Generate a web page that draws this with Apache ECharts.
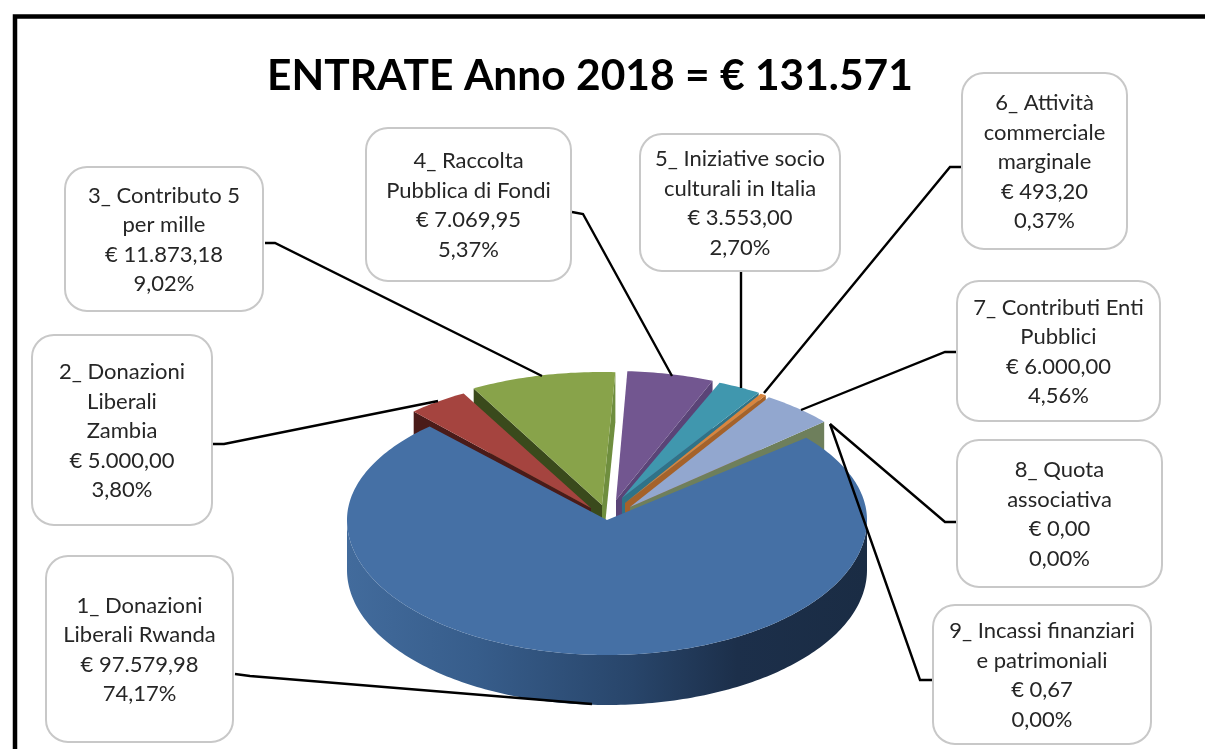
<!DOCTYPE html>
<html>
<head>
<meta charset="utf-8">
<title>ENTRATE Anno 2018</title>
<style>
  html, body { margin: 0; padding: 0; background: #fff; }
  #chart { width: 1205px; height: 749px; }
</style>
<script src="https://cdn.jsdelivr.net/npm/echarts@6/dist/echarts.min.js"></script>
</head>
<body>
<div id="chart"></div>
<script>
// dati
var titleText = 'ENTRATE Anno 2018 = € 131.571';
var categories = [
  ['1_ Donazioni', 'Liberali Rwanda'],
  ['2_ Donazioni', 'Liberali', 'Zambia'],
  ['3_ Contributo 5', 'per mille'],
  ['4_ Raccolta', 'Pubblica di Fondi'],
  ['5_ Iniziative socio', 'culturali in Italia'],
  ['6_ Attività', 'commerciale', 'marginale'],
  ['7_ Contributi Enti', 'Pubblici'],
  ['8_ Quota', 'associativa'],
  ['9_ Incassi finanziari', 'e patrimoniali']
];
var values = [97579.98, 5000, 11873.18, 7069.95, 3553, 493.2, 6000, 0, 0.67];
var valueLabels = ['€ 97.579,98', '€ 5.000,00', '€ 11.873,18', '€ 7.069,95', '€ 3.553,00', '€ 493,20', '€ 6.000,00', '€ 0,00', '€ 0,67'];
var percentLabels = ['74,17%', '3,80%', '9,02%', '5,37%', '2,70%', '0,37%', '4,56%', '0,00%', '0,00%'];

// colori
var topColors = ['#4570a5', '#a5443f', '#88a34a', '#725690', '#4097ae', '#d9853e', '#92a7cf', '#92a7cf', '#92a7cf'];
var startWallColors = [null, '#4a1b19', '#3a4a1c', null, null, null, null, null, null];
var endWallColors = [null, null, '#6f8e3e', '#5a4477', '#2f7388', '#a5622a', '#6e7f5c', null, null];

// layout della torta
var pieCenter = [607, 520];
var pieRx = 260;
var pieRyFront = 135;
var pieRyBack = 128;  // la prospettiva schiaccia la parte dietro
var pieDepth = 50;
var startAngle = 50;
var arcOffsets = [[0, 0], [-16, -15], [-6, -20], [6, -21], [13, -19], [15, -18], [18, -16], [18, -16], [18, -16]];
var apexOffsets = [[0, 0], [-16, -12], [-5, -15], [9, -20], [15, -22], [18, -17], [23, -13], [23, -13], [23, -13]];
var drawOrder = [8, 3, 2, 1, 4, 5, 6, 7, 0];  // dal fondo al davanti, indice = serie

// riquadri etichette [x0, y0, x1, y1]
var boxes = [
  [46, 556, 233, 742], [32, 335, 212, 525], [65, 167, 263, 311],
  [366, 128, 571, 281], [640, 134, 840, 271], [962, 73, 1127, 249],
  [957, 281, 1160, 421], [957, 440, 1162, 587], [933, 605, 1151, 744]
];
var leaders = [
  [[235, 674], [250, 676], [592, 704]],
  [[213, 444], [224, 444], [438, 401]],
  [[265, 243], [275, 243], [542, 376]],
  [[572, 212], [583, 214], [672, 376]],
  [[741, 271], [741, 388]],
  [[962, 167], [950, 167], [764, 393]],
  [[958, 352], [945, 352], [801, 410]],
  [[956, 522], [945, 522], [830, 424]],
  [[933, 680], [920, 680], [830, 424]]
];

var total = values.reduce(function (s, v) { return s + v; }, 0);

function arcPoint (deg, offset, depth) {
  var r = deg * Math.PI / 180;
  var c = Math.cos(r);
  return [
    pieCenter[0] + offset[0] + pieRx * Math.sin(r),
    pieCenter[1] + offset[1] - (c > 0 ? pieRyBack : pieRyFront) * c + (depth || 0)
  ];
}

function wallQuad (apex, corner) {
  return [apex, corner, [corner[0], corner[1] + pieDepth], [apex[0], apex[1] + pieDepth]];
}

function renderSlice (params, api) {
  var i = params.dataIndex;
  var before = 0;
  for (var k = 0; k < i; k++) before += values[k];
  var a0 = startAngle + before / total * 360;
  var a1 = a0 + api.value(0) / total * 360;
  var offset = arcOffsets[i];
  var apex = [pieCenter[0] + apexOffsets[i][0], pieCenter[1] + apexOffsets[i][1]];
  var children = [];
  var order = drawOrder[i] * 10;

  // parete esterna, solo per la fetta davanti
  if (i === 0) {
    var side = [];
    var lo = Math.max(a0, 90), hi = Math.min(a1, 270), d;
    for (d = lo; d <= hi; d++) side.push(arcPoint(d, offset));
    for (d = hi; d >= lo; d--) side.push(arcPoint(d, offset, pieDepth));
    children.push({
      type: 'polygon',
      z2: order,
      shape: { points: side },
      style: {
        fill: new echarts.graphic.LinearGradient(0, 0, 1, 0, [
          { offset: 0, color: '#426b9c' },
          { offset: 0.25, color: '#375d8b' },
          { offset: 0.55, color: '#28456a' },
          { offset: 0.75, color: '#1c2f4a' },
          { offset: 1, color: '#1a2c44' }
        ])
      }
    });
  }
  if (startWallColors[i]) {
    children.push({
      type: 'polygon', z2: order + 1,
      shape: { points: wallQuad(apex, arcPoint(a0, offset)) },
      style: { fill: startWallColors[i] }
    });
  }
  if (endWallColors[i]) {
    children.push({
      type: 'polygon', z2: order + 1,
      shape: { points: wallQuad(apex, arcPoint(a1, offset)) },
      style: { fill: endWallColors[i] }
    });
  }

  var pts = [apex];
  var steps = Math.max(2, Math.ceil(a1 - a0));
  for (var s = 0; s <= steps; s++) pts.push(arcPoint(a0 + (a1 - a0) * s / steps, offset));
  children.push({
    type: 'polygon', z2: order + 2,
    shape: { points: pts },
    style: { fill: topColors[i] }
  });
  return { type: 'group', children: children };
}

function buildLabels () {
  var out = [];
  // cornice
  out.push({
    type: 'polyline', silent: true,
    shape: { points: [[15, 749], [15, 16.5], [1205, 16.5]] },
    style: { stroke: '#000', lineWidth: 4.5, fill: null }
  });
  out.push({
    type: 'text', silent: true, x: 590, y: 76,
    style: { text: titleText, font: 'bold 42.5px Lato', fill: '#000', align: 'center', verticalAlign: 'middle' }
  });
  leaders.forEach(function (pts) {
    out.push({
      type: 'polyline', silent: true, z: 5,
      shape: { points: pts },
      style: { stroke: '#000', lineWidth: 2.4, fill: null }
    });
  });
  boxes.forEach(function (b, i) {
    out.push({
      type: 'rect', silent: true, z: 6,
      shape: { x: b[0], y: b[1], width: b[2] - b[0], height: b[3] - b[1], r: 22 },
      style: { fill: '#fff', stroke: '#c8c8c8', lineWidth: 2 }
    });
    var lines = categories[i].concat([valueLabels[i], percentLabels[i]]);
    out.push({
      type: 'text', silent: true, z: 7,
      x: (b[0] + b[2]) / 2, y: (b[1] + b[3]) / 2 + 1,
      style: {
        text: lines.join('\n'),
        font: '22px Lato',
        lineHeight: 29.5,
        fill: '#262626',
        align: 'center',
        verticalAlign: 'middle'
      }
    });
  });
  return out;
}

var chart = echarts.init(document.getElementById('chart'));
chart.setOption({
  animation: false,
  backgroundColor: '#fff',
  graphic: { elements: buildLabels() },
  series: [{
    type: 'custom',
    coordinateSystem: 'none',
    silent: true,
    renderItem: renderSlice,
    data: values.map(function (v) { return [v]; })
  }]
});
</script>
</body>
</html>
